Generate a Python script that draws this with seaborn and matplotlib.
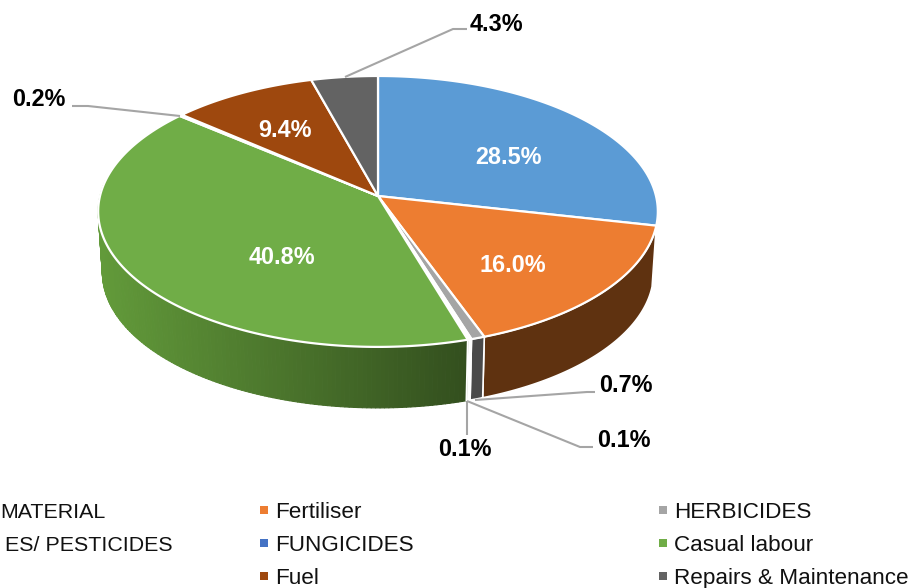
import numpy as np
import pandas as pd
import matplotlib
matplotlib.use("Agg")
import matplotlib.pyplot as plt
import seaborn as sns

# ---- data ----
slice_names = ["MATERIAL", "Fertiliser", "HERBICIDES", "ES/ PESTICIDES",
               "FUNGICIDES", "Casual labour", "", "Fuel", "Repairs & Maintenance"]
slice_values = [28.5, 16.0, 0.7, 0.1, 0.1, 40.8, 0.2, 9.4, 4.3]
slice_colors = ["#5B9BD5", "#ED7D31", "#A5A5A5", "#FFC000", "#4472C4", "#70AD47", "#255E91", "#9E480E", "#636363"]

# ---- label layout (pixels): text, x, y ----
inside_labels = [("28.5%", 508, 156), ("16.0%", 513, 264), ("40.8%", 282, 256), ("9.4%", 285, 129)]
outside_labels = [("4.3%", 496, 23), ("0.2%", 39, 98), ("0.7%", 626, 384), ("0.1%", 624, 439), ("0.1%", 465, 448)]
leader_x = [[467, 453, 345], [72, 88, 180], [595, 587, 475], [593, 580, 467], [467, 467]]
leader_y = [[29, 29, 77], [106, 106, 116], [392, 392, 400], [447, 447, 401], [435, 401]]
legend_rows = [510, 543, 576]
legend_columns = [
    (["Fertiliser", "FUNGICIDES", "Fuel"], 275, 264),
    (["HERBICIDES", "Casual labour", "Repairs & Maintenance"], 674, 663),
]
clipped_legend = [("MATERIAL", 105, 510), ("ES/ PESTICIDES", 173, 543)]

sns.set_theme(style="white")
plt.rcParams["font.family"] = ["Liberation Sans", "DejaVu Sans"]

fig = plt.figure(figsize=(9.14, 5.88), dpi=100)
ax = fig.add_axes([0, 0, 1, 1])
ax.set_xlim(0, 914)
ax.set_ylim(588, 0)
ax.axis("off")

# perspective projection of the pie disc
CX, CY, BX, BY, K = 378.0, 196.0, 278.0, 133.7, 0.114
DEPTH, SHRINK = 61.0, 0.985


def top(theta):
    u, v = np.sin(theta), np.cos(theta)
    d = 1 + K * v
    return CX + BX * u / d, CY - BY * v / d


def bottom(theta):
    x, y = top(theta)
    return CX + (x - CX) * SHRINK, y + DEPTH


values = np.array(slice_values, dtype=float)
edges = np.concatenate([[0], np.cumsum(values)]) / values.sum() * 2 * np.pi


def wall(t0, t1, color, ec="white", lw=1.2):
    t = np.linspace(t0, t1, 60)
    x1, y1 = top(t)
    x2, y2 = bottom(t[::-1])
    ax.fill(np.r_[x1, x2], np.r_[y1, y2], fc=color, ec=ec, lw=lw, joinstyle="round", zorder=2)


# side wall: orange part, thin slices, green gradient part
wall(edges[1], edges[2], "#5F3210")
wall(edges[2], edges[3], "#4A4A4A")
wall(edges[3], edges[5], "#FFFFFF")

g_start, g_end = edges[5], 1.5 * np.pi + 0.12
strips = np.linspace(g_start, g_end, 140)
dark = np.array([0x33, 0x4F, 0x1E]) / 255
light = np.array([0x62, 0x9A, 0x3A]) / 255
for a, b in zip(strips[:-1], strips[1:]):
    xm = top((a + b) / 2)[0]
    f = np.clip((xm - 100) / (466 - 100), 0, 1)
    col = tuple(light + (dark - light) * f)
    wall(a, b, col, ec=col, lw=0.8)
sx, sy = top(g_start)
bx, by = bottom(g_start)
ax.plot([sx, bx], [sy, by], color="white", lw=1.4, zorder=3)

# top face
for i, c in enumerate(slice_colors):
    t = np.linspace(edges[i], edges[i + 1], max(3, int((edges[i + 1] - edges[i]) * 80)))
    x, y = top(t)
    ax.fill(np.r_[CX, x], np.r_[CY, y], fc=c, ec="white", lw=1.6, joinstyle="round", zorder=4)

# leader lines
for xs, ys in zip(leader_x, leader_y):
    ax.plot(xs, ys, color="#A5A5A5", lw=1.5, zorder=5, solid_capstyle="butt")

for s, x, y in inside_labels:
    ax.text(x, y + 8, s, color="white", fontsize=16.8, fontweight="bold", ha="center", va="baseline", zorder=6)
for s, x, y in outside_labels:
    ax.text(x, y + 8, s, color="black", fontsize=16.8, fontweight="bold", ha="center", va="baseline", zorder=6)

# legend
color_of = dict(zip(slice_names, slice_colors))
for names, tx, mx in legend_columns:
    df = pd.DataFrame({"x": [mx] * len(names), "y": legend_rows, "name": names})
    sns.scatterplot(data=df, x="x", y="y", hue="name", palette=color_of, marker="s", s=30,
                    linewidth=0, legend=False, ax=ax, zorder=6)
    for n, y in zip(names, legend_rows):
        ax.text(tx, y + 8, n, color="#111111", fontsize=16.2, ha="left", va="baseline")
for n, x, y in clipped_legend:
    ax.text(x, y + 8, n, color="#111111", fontsize=15.4, ha="right", va="baseline")

ax.set_xlim(0, 914)
ax.set_ylim(588, 0)
ax.axis("off")
fig.savefig("out.png", dpi=100, facecolor="white")
